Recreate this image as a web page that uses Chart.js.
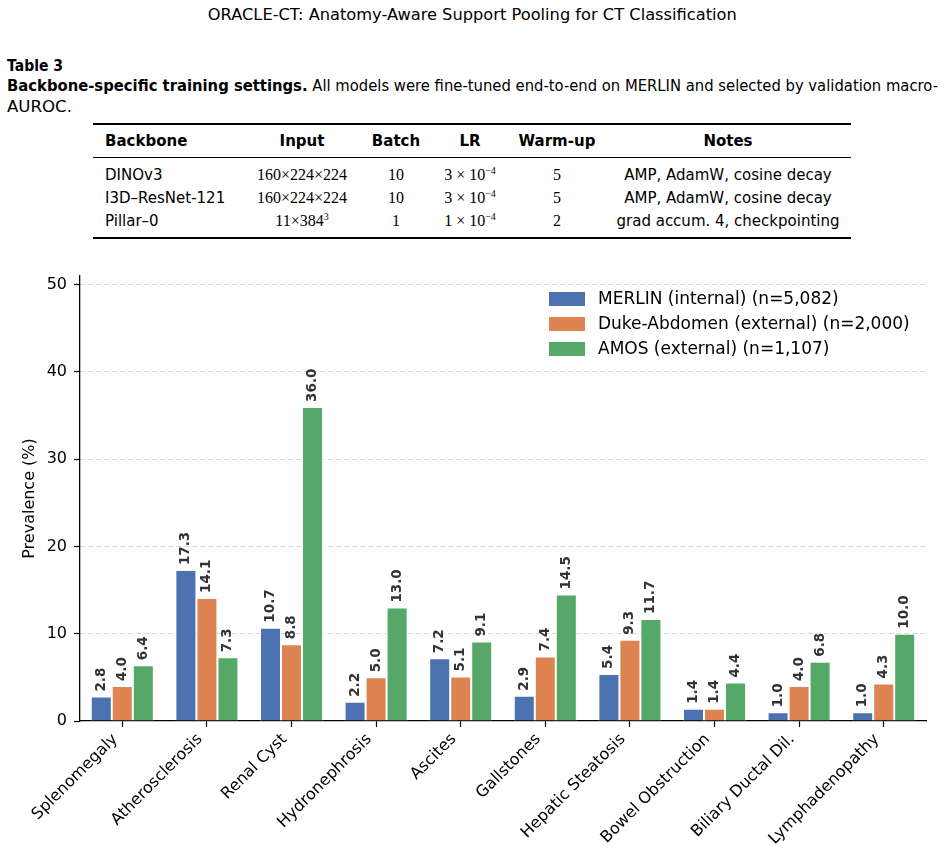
<!DOCTYPE html>
<html>
<head>
<meta charset="utf-8">
<script src="https://cdn.jsdelivr.net/npm/chart.js@4/dist/chart.umd.min.js"></script>
<style>
  html, body { margin: 0; padding: 0; background: #fff; }
  body { width: 944px; height: 851px; position: relative; overflow: hidden; font-family: "DejaVu Sans", sans-serif; color: #000; }
  .abs { position: absolute; white-space: nowrap; }
  .fit { display: inline-block; transform-origin: left center; }
  .cell { position: absolute; white-space: nowrap; font-size: 15px; line-height: 20px; height: 20px; }
  .serif { font-family: "Liberation Serif", "DejaVu Serif", serif; font-size: 16px; }
  .rule { position: absolute; left: 93px; width: 758px; background: #000; }
  sup { font-size: 10px; vertical-align: 6px; line-height: 0; }
  #chartBox { position: absolute; left: 0; top: 250px; width: 944px; height: 601px; }
</style>
</head>
<body>
<div class="abs" id="title" style="top:5px;left:0;width:944px;text-align:center;font-size:15px;line-height:20px;"><span class="fit" id="titleTxt" style="transform-origin:center center;">ORACLE-CT: Anatomy-Aware Support Pooling for CT Classification</span></div>
<div class="abs" style="top:56px;left:7px;font-size:15px;line-height:20px;font-weight:bold;"><span class="fit" id="tbl">Table 3</span></div>
<div class="abs" style="top:76px;left:7px;font-size:15px;line-height:20px;"><span class="fit" id="cap1"><b>Backbone-specific training settings.</b> All models were fine-tuned end-to-end on MERLIN and selected by validation macro-</span></div>
<div class="abs" style="top:97px;left:7px;font-size:15px;line-height:20px;"><span class="fit" id="cap2">AUROC.</span></div>

<div class="rule" style="top:123px;height:1.5px;"></div>
<div class="rule" style="top:156.5px;height:1px;"></div>
<div class="rule" style="top:237px;height:1.5px;"></div>
<div id="tableCells"></div>

<div id="chartBox"><canvas id="c" width="944" height="601"></canvas></div>

<script>
// ---------- table content ----------
const tableHeader = ["Backbone", "Input", "Batch", "LR", "Warm-up", "Notes"];
const tableRows = [
  ["DINOv3", "160×224×224", "10", "3 × 10<sup>−4</sup>", "5", "AMP, AdamW, cosine decay"],
  ["I3D–ResNet-121", "160×224×224", "10", "3 × 10<sup>−4</sup>", "5", "AMP, AdamW, cosine decay"],
  ["Pillar–0", "11×384<sup>3</sup>", "1", "1 × 10<sup>−4</sup>", "2", "grad accum. 4, checkpointing"]
];

// ---------- chart data ----------
const categories = ["Splenomegaly", "Atherosclerosis", "Renal Cyst", "Hydronephrosis", "Ascites", "Gallstones", "Hepatic Steatosis", "Bowel Obstruction", "Biliary Ductal Dil.", "Lymphadenopathy"];
const merlinValues = [2.8, 17.3, 10.7, 2.2, 7.2, 2.9, 5.4, 1.4, 1.0, 1.0];
const dukeValues   = [4.0, 14.1, 8.8, 5.0, 5.1, 7.4, 9.3, 1.4, 4.0, 4.3];
const amosValues   = [6.4, 7.3, 36.0, 13.0, 9.1, 14.5, 11.7, 4.4, 6.8, 10.0];
const seriesLabels = ["MERLIN (internal) (n=5,082)", "Duke-Abdomen (external) (n=2,000)", "AMOS (external) (n=1,107)"];
const yTicks = [0, 10, 20, 30, 40, 50];

// ---------- build table ----------
(function(){
  const host = document.getElementById('tableCells');
  const colX = [105, 302, 396, 470, 557, 728]; // first is left-aligned, rest centered
  const rowY = [141, 175, 198, 221];
  function add(html, col, row, bold) {
    const d = document.createElement('div');
    d.className = 'cell' + (row > 0 && col >= 1 && col <= 4 ? ' serif' : '');
    d.innerHTML = html;
    d.style.top = (rowY[row] - 10) + 'px';
    if (bold) d.style.fontWeight = 'bold';
    host.appendChild(d);
    if (col === 0) d.style.left = colX[col] + 'px';
    else { const w = d.getBoundingClientRect().width; d.style.left = (colX[col] - w / 2) + 'px'; }
  }
  tableHeader.forEach((h, i) => add(h, i, 0, true));
  tableRows.forEach((r, ri) => r.forEach((c, ci) => add(c, ci, ri + 1, false)));
})();

// fit header lines to reference widths
function fitWidth(id, target) {
  const el = document.getElementById(id);
  const w = el.getBoundingClientRect().width;
  el.style.transform = 'scaleX(' + (target / w) + ')';
}
fitWidth('titleTxt', 529);
fitWidth('tbl', 56);
fitWidth('cap1', 931);
fitWidth('cap2', 65);

// ---------- plugins ----------
const barLabels = {
  id: 'barLabels',
  afterDatasetsDraw(chart) {
    const ctx = chart.ctx;
    ctx.save();
    ctx.font = 'bold 13.5px "DejaVu Sans"';
    ctx.fillStyle = '#333333';
    ctx.textAlign = 'left';
    ctx.textBaseline = 'middle';
    chart.data.datasets.forEach((ds, di) => {
      const meta = chart.getDatasetMeta(di);
      meta.data.forEach((bar, i) => {
        ctx.save();
        ctx.translate(bar.x, bar.y - 5);
        ctx.rotate(-Math.PI / 2);
        ctx.fillText(ds.data[i].toFixed(1), 0, 0);
        ctx.restore();
      });
    });
    ctx.restore();
  }
};

const innerLegend = {
  id: 'innerLegend',
  afterDraw(chart) {
    const ctx = chart.ctx;
    const a = chart.chartArea;
    const x0 = a.right - 377, y0 = a.top + 23, rowH = 25;
    ctx.save();
    ctx.font = '17px "DejaVu Sans"';
    ctx.textAlign = 'left';
    ctx.textBaseline = 'middle';
    chart.data.datasets.forEach((ds, i) => {
      const y = y0 + i * rowH;
      ctx.fillStyle = ds.backgroundColor;
      ctx.fillRect(x0, y - 7, 36, 14);
      ctx.fillStyle = '#000';
      ctx.fillText(ds.label, x0 + 49, y + 1);
    });
    ctx.restore();
  }
};

// ---------- chart ----------
const colors = ['#4C72B0', '#DD8452', '#55A868'];
const valueSets = [merlinValues, dukeValues, amosValues];

new Chart(document.getElementById('c'), {
  type: 'bar',
  data: {
    labels: categories,
    datasets: valueSets.map((vals, i) => ({
      label: seriesLabels[i],
      data: vals,
      backgroundColor: colors[i],
      borderColor: '#ffffff',
      borderWidth: 1,
      categoryPercentage: 0.745,
      barPercentage: 1.0
    }))
  },
  options: {
    responsive: false,
    animation: false,
    devicePixelRatio: 1,
    layout: { padding: { top: 26, right: 18, left: 0, bottom: 0 } },
    plugins: { legend: { display: false }, tooltip: { enabled: false } },
    scales: {
      x: {
        offset: true,
        grid: { offset: false, drawOnChartArea: false, drawTicks: true, tickLength: 6, tickColor: '#000', tickWidth: 1.2 },
        border: { display: true, color: '#000', width: 1.3 },
        ticks: {
          autoSkip: false, minRotation: 45, maxRotation: 45, padding: 3, labelOffset: -7,
          color: '#000', font: { family: 'DejaVu Sans', size: 16 }
        },
        afterFit(scale) { scale.height = 130; }
      },
      y: {
        min: 0, max: 51,
        afterBuildTicks(scale) { scale.ticks = yTicks.map(v => ({ value: v })); },
        grid: {
          color: ctx => (ctx.tick && ctx.tick.value === 0) ? 'rgba(0,0,0,0)' : '#d9d9d9',
          lineWidth: 1, drawTicks: true, tickLength: 6, tickColor: '#000', tickWidth: 1.2
        },
        border: { display: true, color: '#000', width: 1.3, dash: [5, 3] },
        ticks: { padding: 7, color: '#000', font: { family: 'DejaVu Sans', size: 16 } },
        title: { display: true, text: 'Prevalence (%)', color: '#000', font: { family: 'DejaVu Sans', size: 16 }, padding: { top: 20, bottom: 0 } },
        afterFit(scale) { scale.width = 80; }
      }
    }
  },
  plugins: [barLabels, innerLegend]
});
</script>
</body>
</html>
